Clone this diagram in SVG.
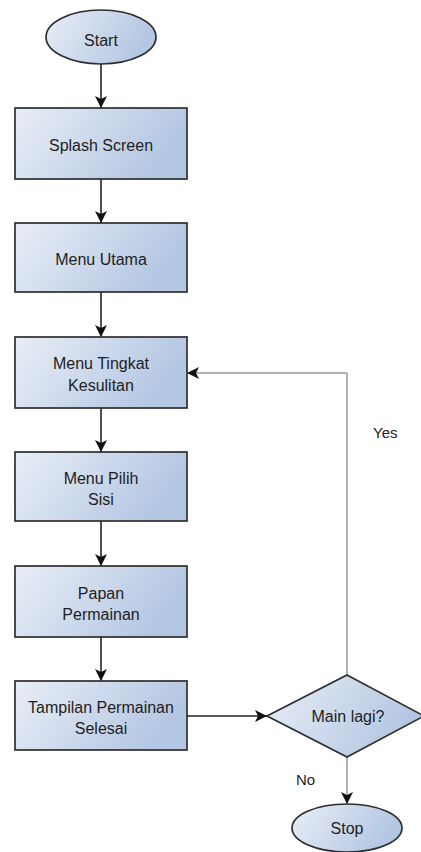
<svg xmlns="http://www.w3.org/2000/svg" width="421" height="852" viewBox="0 0 421 852">
<defs>
<linearGradient id="g" x1="0" y1="0" x2="1" y2="0.3">
<stop offset="0" stop-color="#e9eef7"/>
<stop offset="1" stop-color="#b3c6e2"/>
</linearGradient>
<marker id="ah" markerWidth="12" markerHeight="12" viewBox="0 0 12 12" refX="12" refY="6" orient="auto" markerUnits="userSpaceOnUse">
<path d="M0,0 L12,6 L0,12 L3,6 Z" fill="#111"/>
</marker>
</defs>
<style>
.n{fill:url(#g);stroke:#2e2e2e;stroke-width:1.7}
.t{font-family:"Liberation Sans",Arial,sans-serif;font-size:16px;fill:#1e1e1e;text-anchor:middle}
.l{font-family:"Liberation Sans",Arial,sans-serif;font-size:15px;fill:#222}
.c{fill:none;stroke:#222;stroke-width:1.6}
.f{fill:none;stroke:#666;stroke-width:1}
</style>
<rect width="421" height="852" fill="#fff"/>
<g id="connectors">
<line class="c" x1="101" y1="64" x2="101" y2="108" marker-end="url(#ah)"/>
<line class="c" x1="101" y1="179" x2="101" y2="223" marker-end="url(#ah)"/>
<line class="c" x1="101" y1="292" x2="101" y2="337" marker-end="url(#ah)"/>
<line class="c" x1="101" y1="408" x2="101" y2="452" marker-end="url(#ah)"/>
<line class="c" x1="101" y1="521" x2="101" y2="566" marker-end="url(#ah)"/>
<line class="c" x1="101" y1="637" x2="101" y2="681" marker-end="url(#ah)"/>
<line class="c" x1="187" y1="716" x2="267" y2="716" marker-end="url(#ah)"/>
<polyline class="f" points="347,675 347,373 187,373" marker-end="url(#ah)"/>
<line class="f" x1="347" y1="757" x2="347" y2="804" marker-end="url(#ah)"/>
<text class="l" x="373" y="438">Yes</text>
<text class="l" x="296" y="785">No</text>
</g>
<g id="start">
<ellipse class="n" cx="101" cy="37" rx="55" ry="27"/>
<text class="t" x="101" y="46">Start</text>
</g>
<g id="splash">
<rect class="n" x="15" y="108" width="172" height="71"/>
<text class="t" x="101" y="151">Splash Screen</text>
</g>
<g id="menu-utama">
<rect class="n" x="15" y="223" width="172" height="69"/>
<text class="t" x="101" y="265">Menu Utama</text>
</g>
<g id="menu-tingkat">
<rect class="n" x="15" y="337" width="172" height="71"/>
<text class="t" x="101" y="369">Menu Tingkat</text>
<text class="t" x="101" y="391">Kesulitan</text>
</g>
<g id="menu-pilih">
<rect class="n" x="15" y="452" width="172" height="69"/>
<text class="t" x="101" y="484">Menu Pilih</text>
<text class="t" x="101" y="505">Sisi</text>
</g>
<g id="papan">
<rect class="n" x="15" y="566" width="172" height="71"/>
<text class="t" x="101" y="599">Papan</text>
<text class="t" x="101" y="620">Permainan</text>
</g>
<g id="tampilan">
<rect class="n" x="15" y="681" width="172" height="69"/>
<text class="t" x="101" y="713">Tampilan Permainan</text>
<text class="t" x="101" y="734">Selesai</text>
</g>
<g id="main-lagi">
<polygon class="n" points="347,675 424,716 347,757 267,716"/>
<text class="t" x="348" y="722">Main lagi?</text>
</g>
<g id="stop">
<ellipse class="n" cx="347" cy="828" rx="55" ry="24"/>
<text class="t" x="347" y="834">Stop</text>
</g>
</svg>
